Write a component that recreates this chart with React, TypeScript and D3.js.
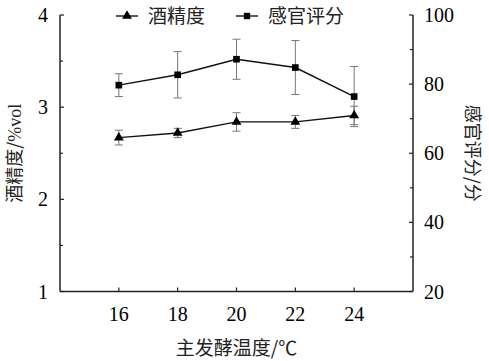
import React, { useRef, useEffect } from "react";
import * as d3 from "d3";

const temps = [16, 18, 20, 22, 24];
const alcohol = [2.67, 2.72, 2.84, 2.84, 2.91];
const alcoholErr = [0.08, 0.05, 0.1, 0.07, 0.1];
const sensory = [79.7, 82.7, 87.2, 84.8, 76.4];
const sensoryErr = [3.3, 6.7, 5.8, 7.8, 8.7];
const leftTicks = [1, 2, 3, 4];
const rightTicks = [20, 40, 60, 80, 100];

const serif = "'Liberation Serif', 'Times New Roman', serif";
const cjk = "'Noto Sans CJK SC', sans-serif";

const App: React.FC = () => {
    const svgRef = useRef<SVGSVGElement | null>(null);

    useEffect(() => {
        const width = 489;
        const height = 361;
        const margin = { left: 60, right: 76, top: 15, bottom: 70 };

        const svg = d3.select(svgRef.current);
        svg.selectAll("*").remove();

        const x = d3.scaleLinear().domain([14, 26]).range([margin.left, width - margin.right]);
        const yL = d3.scaleLinear().domain([1, 4]).range([height - margin.bottom + 0.5, margin.top]);
        const yR = d3.scaleLinear().domain([20, 100]).range([height - margin.bottom + 0.5, margin.top]);

        const axisColor = "#222";
        const x0 = x.range()[0];
        const x1 = x.range()[1];
        const yb = yL.range()[0];

        const g = svg.append("g");

        // axis lines
        g.append("line").attr("x1", x0).attr("x2", x0).attr("y1", margin.top).attr("y2", yb)
            .attr("stroke", axisColor).attr("stroke-width", 1.5);
        g.append("line").attr("x1", x1).attr("x2", x1).attr("y1", margin.top).attr("y2", yb)
            .attr("stroke", axisColor).attr("stroke-width", 1.5);
        g.append("line").attr("x1", x0).attr("x2", x1).attr("y1", yb).attr("y2", yb)
            .attr("stroke", axisColor).attr("stroke-width", 1.5);

        // left ticks (major + minor), pointing inside
        const leftMinor = d3.range(1.5, 4, 1);
        g.selectAll(".lt").data(leftTicks).join("line")
            .attr("x1", x0).attr("x2", x0 + 4).attr("y1", (d) => yL(d)).attr("y2", (d) => yL(d))
            .attr("stroke", axisColor).attr("stroke-width", 1.2);
        g.selectAll(".lm").data(leftMinor).join("line")
            .attr("x1", x0).attr("x2", x0 + 3).attr("y1", (d) => yL(d)).attr("y2", (d) => yL(d))
            .attr("stroke", axisColor).attr("stroke-width", 1.2);
        g.selectAll(".ltl").data(leftTicks).join("text")
            .attr("x", x0 - 12).attr("y", (d) => yL(d)).attr("dy", "0.35em")
            .attr("text-anchor", "end").attr("font-family", serif).attr("font-size", 20)
            .text((d) => d);

        // right ticks
        const rightMinor = d3.range(30, 100, 20);
        g.selectAll(".rt").data(rightTicks).join("line")
            .attr("x1", x1).attr("x2", x1 - 4).attr("y1", (d) => yR(d)).attr("y2", (d) => yR(d))
            .attr("stroke", axisColor).attr("stroke-width", 1.2);
        g.selectAll(".rm").data(rightMinor).join("line")
            .attr("x1", x1).attr("x2", x1 - 3).attr("y1", (d) => yR(d)).attr("y2", (d) => yR(d))
            .attr("stroke", axisColor).attr("stroke-width", 1.2);
        g.selectAll(".rtl").data(rightTicks).join("text")
            .attr("x", x1 + 11).attr("y", (d) => yR(d)).attr("dy", "0.35em")
            .attr("text-anchor", "start").attr("font-family", serif).attr("font-size", 20)
            .text((d) => d);

        // bottom ticks
        g.selectAll(".bt").data(temps).join("line")
            .attr("x1", (d) => x(d)).attr("x2", (d) => x(d)).attr("y1", yb).attr("y2", yb - 4)
            .attr("stroke", axisColor).attr("stroke-width", 1.2);
        g.selectAll(".btl").data(temps).join("text")
            .attr("x", (d) => x(d)).attr("y", yb + 29)
            .attr("text-anchor", "middle").attr("font-family", serif).attr("font-size", 20)
            .text((d) => d);

        // axis titles
        g.append("text").attr("x", (x0 + x1) / 2).attr("y", 355)
            .attr("text-anchor", "middle").attr("font-size", 19).attr("font-family", cjk)
            .attr("fill", "#222")
            .text("主发酵温度/℃");

        g.append("text")
            .attr("transform", `translate(21,${(margin.top + yb) / 2}) rotate(-90)`)
            .attr("text-anchor", "middle").attr("font-size", 18).attr("fill", "#222")
            .selectAll("tspan").data([["酒精度/", cjk], ["%vol", serif]]).join("tspan")
            .attr("font-family", (d) => d[1]).text((d) => d[0]);

        g.append("text")
            .attr("transform", `translate(466,${(margin.top + yb) / 2}) rotate(90)`)
            .attr("text-anchor", "middle").attr("font-size", 18).attr("fill", "#222")
            .attr("font-family", cjk)
            .text("感官评分/分");

        // series
        const drawSeries = (
            vals: number[],
            errs: number[],
            y: d3.ScaleLinear<number, number>,
            marker: "tri" | "sq"
        ) => {
            const sg = svg.append("g");
            const cap = 4;
            temps.forEach((t, i) => {
                const cx = x(t);
                const top = y(vals[i] + errs[i]);
                const bot = y(vals[i] - errs[i]);
                sg.append("line").attr("x1", cx).attr("x2", cx).attr("y1", top).attr("y2", bot)
                    .attr("stroke", "#777").attr("stroke-width", 1);
                [top, bot].forEach((yy) =>
                    sg.append("line").attr("x1", cx - cap).attr("x2", cx + cap).attr("y1", yy).attr("y2", yy)
                        .attr("stroke", "#777").attr("stroke-width", 1)
                );
            });
            const line = d3.line<number>().x((_, i) => x(temps[i])).y((d) => y(d));
            sg.append("path").attr("d", line(vals)).attr("fill", "none")
                .attr("stroke", "#111").attr("stroke-width", 1.4);
            const sym = d3.symbol()
                .type(marker === "tri" ? d3.symbolTriangle : d3.symbolSquare)
                .size(marker === "tri" ? 42 : 44);
            sg.selectAll("path.m").data(vals).join("path")
                .attr("class", "m")
                .attr("d", sym)
                .attr("transform", (d, i) => `translate(${x(temps[i])},${y(d)})`)
                .attr("fill", "#000");
        };

        drawSeries(sensory, sensoryErr, yR, "sq");
        drawSeries(alcohol, alcoholErr, yL, "tri");

        // legend
        const legend = [
            { label: "酒精度", marker: d3.symbolTriangle, size: 42, x: 116 },
            { label: "感官评分", marker: d3.symbolSquare, size: 40, x: 236 },
        ];
        const lg = svg.append("g");
        legend.forEach((l) => {
            const ly = 16;
            lg.append("line").attr("x1", l.x).attr("x2", l.x + 22).attr("y1", ly).attr("y2", ly)
                .attr("stroke", "#111").attr("stroke-width", 1.4);
            lg.append("path").attr("d", d3.symbol().type(l.marker).size(l.size)())
                .attr("transform", `translate(${l.x + 11},${ly})`).attr("fill", "#000");
            lg.append("text").attr("x", l.x + 32).attr("y", ly).attr("dy", "0.35em")
                .attr("font-family", cjk).attr("font-size", 19).attr("fill", "#222")
                .text(l.label);
        });
    }, []);

    return (
        <svg
            ref={svgRef}
            width={489}
            height={361}
            style={{ position: "absolute", left: 0, top: 0, background: "#fff" }}
        />
    );
};

export default App;
